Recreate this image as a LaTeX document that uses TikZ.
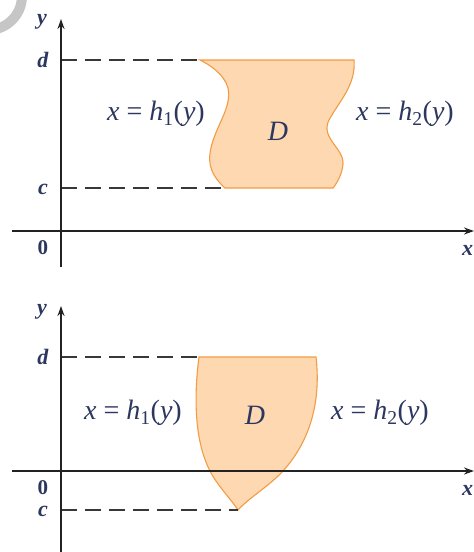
\documentclass[tikz,border=0pt]{standalone}
\usepackage{fontspec}
\setmainfont{Liberation Serif}
\usepackage{tikz}
\usetikzlibrary{arrows.meta,positioning}
\definecolor{regionfill}{HTML}{FDD8B1}
\definecolor{regionline}{HTML}{F39C45}
\definecolor{labelink}{HTML}{2C3760}
\definecolor{axisink}{HTML}{222222}
\tikzset{
  axis/.style={-{Stealth[length=10pt,width=7pt]}, line width=1.8pt, draw=axisink},
  guide/.style={line width=1.6pt, draw=axisink!90, dash pattern=on 16pt off 8pt},
  region/.style={fill=regionfill, draw=regionline, line width=1.1pt},
  ticklabel/.style={text=labelink, font=\fontsize{22}{24}\selectfont\bfseries\itshape, inner sep=0pt},
  eqlabel/.style={text=labelink, font=\fontsize{28}{30}\selectfont, inner sep=0pt}
}
\newcommand{\hfun}[1]{\textit{x}\hspace{0.25em}=\hspace{0.25em}\textit{h}\textsubscript{#1}(\textit{y})}

\begin{document}
\begin{tikzpicture}[x=1pt,y=-1pt]
  \useasboundingbox (0,0) rectangle (474,552);
  \fill[white] (0,0) rectangle (474,552);
  % corner mark
  \draw[gray!45, line width=10pt] (-12,-4) circle (34);

  % upper picture
  \coordinate (ua0) at (61,231);
  \coordinate (uybot) at (61,267);
  \coordinate (uytop) at (61,19);
  \coordinate (uxl) at (12,231);
  \coordinate (uxr) at (474,231);
  \coordinate (ud) at (61,60);
  \coordinate (uc) at (61,188);
  \coordinate (udr) at (200,60);
  \coordinate (ucr) at (225,188);
  \fill[region] (200,60) -- (354,60)
    .. controls (356,85) and (340,100) .. (329,120)
    .. controls (320,138) and (344,148) .. (343,164)
    .. controls (342,175) and (337,183) .. (333,188)
    -- (225,188)
    .. controls (212,176) and (207,165) .. (211,148)
    .. controls (216,125) and (232,108) .. (228,88)
    .. controls (224,74) and (210,65) .. (200,60) -- cycle;
  \draw[guide] (ud) -- (udr);
  \draw[guide] (uc) -- (ucr);
  \draw[axis] (uxl) -- (uxr);
  \draw[axis] (uybot) -- (uytop);
  \node[ticklabel] (uy) at (42,22) {y};
  \node[ticklabel] (udl) at (43,60) {d};
  \node[ticklabel] (ucl) at (43,189) {c};
  \node[ticklabel, font=\fontsize{21}{22}\selectfont\bfseries] (u0) at (43,248) {0};
  \node[ticklabel, anchor=west] (ux) at (462,250) {x};
  \node[eqlabel] (uh1) at (156,114) {\hfun{1}};
  \node[eqlabel] (uh2) at (405,114) {\hfun{2}};
  \node[eqlabel] (uD) at (278,131) {\textit{D}};

  % lower picture
  \coordinate (la0) at (61,471);
  \coordinate (lybot) at (61,552);
  \coordinate (lytop) at (61,306);
  \coordinate (lxl) at (12,471);
  \coordinate (lxr) at (474,471);
  \coordinate (ld) at (61,357);
  \coordinate (lc) at (61,510);
  \coordinate (ldr) at (199,357);
  \coordinate (lcr) at (238,510);
  \fill[region] (199,357) -- (316,357)
    .. controls (321,400) and (311,440) .. (283,471)
    .. controls (268,487) and (250,497) .. (238,510)
    .. controls (230,498) and (217,485) .. (210,471)
    .. controls (194,440) and (194,395) .. (199,357) -- cycle;
  \draw[guide] (ld) -- (ldr);
  \draw[guide] (lc) -- (lcr);
  \draw[axis] (lxl) -- (lxr);
  \draw[axis] (lybot) -- (lytop);
  \node[ticklabel] (ly) at (42,312) {y};
  \node[ticklabel] (ldl) at (43,357) {d};
  \node[ticklabel] (lcl) at (43,511) {c};
  \node[ticklabel, font=\fontsize{21}{22}\selectfont\bfseries] (l0) at (43,488) {0};
  \node[ticklabel, anchor=west] (lx) at (462,490) {x};
  \node[eqlabel] (lh1) at (133,413) {\hfun{1}};
  \node[eqlabel] (lh2) at (380,413) {\hfun{2}};
  \node[eqlabel] (lD) at (255,415) {\textit{D}};
\end{tikzpicture}
\end{document}
